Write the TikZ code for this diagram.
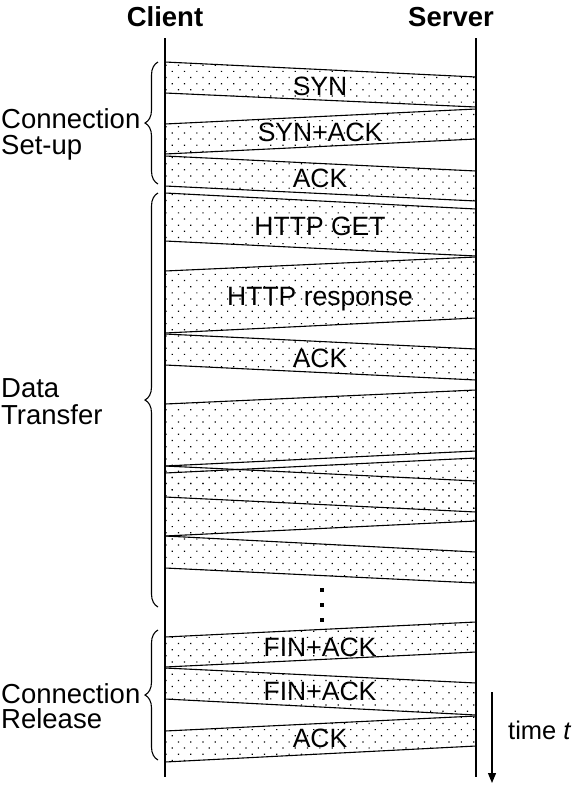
\documentclass[tikz,border=0pt]{standalone}
\usepackage{fontspec}
\setmainfont{Liberation Sans}
\usetikzlibrary{patterns.meta,decorations.pathreplacing,arrows.meta}
\begin{document}
\begin{tikzpicture}[x=1pt,y=-1pt,
  lifeline/.style={line width=1.3pt},
  band/.style={draw, line width=1.1pt, line join=round,
    pattern={Dots[distance=8.7pt,angle=45,radius=0.85pt]}, pattern color=black},
  msg/.style={font=\fontsize{26.5}{30}\selectfont, anchor=base, inner sep=0pt},
  hdr/.style={font=\fontsize{27.5}{30}\selectfont\bfseries, anchor=base, inner sep=0pt},
  phase/.style={font=\fontsize{27.5}{30}\selectfont, anchor=base west, inner sep=0pt},
  timelbl/.style={font=\fontsize{25.5}{30}\selectfont, anchor=base west, inner sep=0pt},
  bracket/.style={decorate, decoration={brace, amplitude=13pt}, line width=1.1pt},
  edot/.style={fill=black},
  timearrow/.style={line width=1.2pt, -{Triangle[length=10pt,width=8pt]}}
  ]
\useasboundingbox (0,0) rectangle (573,785);

% headers
\node[hdr] (client) at (165,26) {Client};
\node[hdr] (server) at (451,26) {Server};

% lifelines
\coordinate (c0) at (165,38);
\coordinate (c1) at (165,777);
\coordinate (s0) at (476,38);
\coordinate (s1) at (476,777);
\draw[lifeline] (c0) -- (c1);
\draw[lifeline] (s0) -- (s1);

% bands (client top, server top, server bottom, client bottom)
\path[band] (165,62)  -- (476,77)  -- (476,107) -- (165,93)  -- cycle; % SYN
\path[band] (165,124) -- (476,109) -- (476,139) -- (165,154) -- cycle; % SYN+ACK
\path[band] (165,156) -- (476,171) -- (476,201) -- (165,186) -- cycle; % ACK
\path[band] (165,193) -- (476,209) -- (476,256) -- (165,241) -- cycle; % HTTP GET
\path[band] (165,271) -- (476,257) -- (476,318) -- (165,333) -- cycle; % HTTP response
\path[band] (165,334) -- (476,349) -- (476,380) -- (165,365) -- cycle; % ACK
\path[band] (165,404) -- (476,390) -- (476,451) -- (165,466) -- cycle; % data
\path[band] (165,473) -- (476,458) -- (476,521) -- (165,536) -- cycle; % data
\path[band] (165,466) -- (476,481) -- (476,512) -- (165,497) -- cycle; % ack
\path[band] (165,536) -- (476,552) -- (476,583) -- (165,568) -- cycle; % ack
\path[band] (165,637) -- (476,622) -- (476,652) -- (165,667) -- cycle; % FIN+ACK
\path[band] (165,668) -- (476,683) -- (476,715) -- (165,699) -- cycle; % FIN+ACK
\path[band] (165,731) -- (476,716) -- (476,746) -- (165,762) -- cycle; % ACK

% message labels
\node[msg] (m1) at (320,95)  {SYN};
\node[msg] (m2) at (320,141) {SYN+ACK};
\node[msg] (m3) at (320,187) {ACK};
\node[msg] (m4) at (320,235) {HTTP GET};
\node[msg] (m5) at (320,305) {HTTP response};
\node[msg] (m6) at (320,367) {ACK};
\node[msg] (m7) at (320,656) {FIN+ACK};
\node[msg] (m8) at (320,700) {FIN+ACK};
\node[msg] (m9) at (320,747) {ACK};

% ellipsis
\fill[edot] (320,588) rectangle (324,592);
\fill[edot] (320,603) rectangle (324,607);
\fill[edot] (320,618) rectangle (324,622);

% braces
\draw[bracket] (158,184) -- (158,62);
\draw[bracket] (158,607) -- (158,193);
\draw[bracket] (158,760) -- (158,630);

% phase labels
\node[phase] (p1a) at (1,128) {Connection};
\node[phase] (p1b) at (1,154) {Set-up};
\node[phase] (p2a) at (1,397) {Data};
\node[phase] (p2b) at (1,424) {Transfer};
\node[phase] (p3a) at (1,703) {Connection};
\node[phase] (p3b) at (1,728) {Release};

% time arrow
\coordinate (t0) at (492,692);
\coordinate (t1) at (492,783);
\draw[timearrow] (t0) -- (t1);
\node[timelbl] (time) at (508,739) {time \textit{t}};
\end{tikzpicture}
\end{document}
